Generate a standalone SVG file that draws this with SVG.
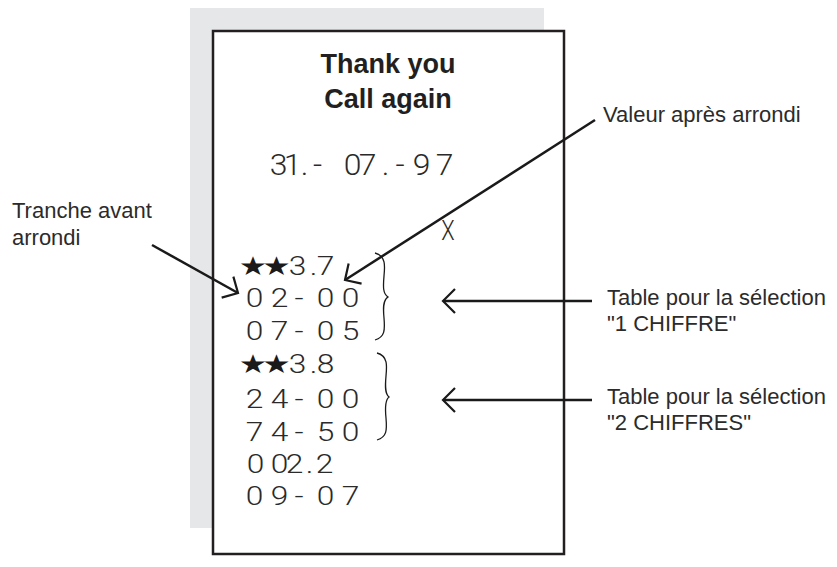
<svg xmlns="http://www.w3.org/2000/svg" width="837" height="567" viewBox="0 0 837 567">
<defs>
<style>
.lbl{font-family:"Liberation Sans",Arial,sans-serif;font-size:22px;fill:#2b2b2b}
.ttl{font-family:"Liberation Sans",Arial,sans-serif;font-size:27px;font-weight:bold;fill:#231f20;text-anchor:middle}
.rc{font-family:Roboto,"DejaVu Sans",sans-serif;font-weight:300;font-size:26px;fill:#2a2a2a;text-anchor:middle}
.st{font-family:"DejaVu Sans",sans-serif;font-size:26px;fill:#1a1a1a;text-anchor:middle}
.ln{stroke:#1a1a1a;stroke-width:2.5;fill:none}
.br{stroke:#1a1a1a;stroke-width:1.3;fill:none}
</style>
<marker id="ah" markerUnits="userSpaceOnUse" markerWidth="30" markerHeight="30" refX="0" refY="0" viewBox="-15 -15 30 30" orient="auto" overflow="visible">
<path d="M -12 -12 L 0 0 L -12 12" fill="none" stroke="#1a1a1a" stroke-width="2.2"/>
</marker>
</defs>
<rect x="0" y="0" width="837" height="567" fill="#ffffff"/>
<g id="receipt">
<rect x="190" y="8" width="354" height="520" fill="#e6e7e9"/>
<rect x="213" y="31" width="351" height="523" fill="#ffffff" stroke="#231f20" stroke-width="2.5"/>
<text class="ttl" x="388" y="73">Thank you</text>
<text class="ttl" x="388" y="108">Call again</text>
<g transform="scale(1.1,1)">
<text class="rc" style="font-size:29px" x="253.2 265.9 276.8 288.6 320.5 334.1 350.5 363.6 383.2 404.1" y="175">31.-07.-97</text>
</g>
<g transform="translate(448,240) scale(0.78,1)">
<text class="rc" style="font-size:28px" x="0" y="0">X</text>
</g>
<g transform="scale(1.22,1)">
<text y="275"><tspan class="st" x="207.4 226.6">★★</tspan><tspan class="rc" x="243.9 257 266.8">3.7</tspan></text>
<text class="rc" x="208.6 229.1 245.1 266.8 287.3" y="307">02-00</text>
<text class="rc" x="208.6 229.1 245.1 266.8 287.3" y="340">07-05</text>
<text y="373"><tspan class="st" x="207.4 226.6">★★</tspan><tspan class="rc" x="243.9 257 266.8">3.8</tspan></text>
<text class="rc" x="208.6 229.1 245.1 266.8 287.3" y="408">24-00</text>
<text class="rc" x="208.6 229.1 245.1 266.8 287.3" y="441">74-50</text>
<text class="rc" x="209.4 229.1 241.4 253.7 266" y="473">002.2</text>
<text class="rc" x="208.6 229.1 245.1 266.8 287.3" y="505">09-07</text>
</g>
<path class="br" d="M375 253 C386 256 385 266 384 276 C383 287 383 294 388 297 C383 300 383 308 384 318 C385 330 385 337 375 340"/>
<path class="br" d="M377 353 C388 356 387 366 386 376 C385 387 385 394 389 397 C385 400 385 408 386 418 C387 430 387 437 377 440"/>
</g>
<g id="label-tranche">
<text class="lbl" x="12" y="218">Tranche avant</text>
<text class="lbl" x="12" y="245">arrondi</text>
</g>
<g id="label-valeur">
<text class="lbl" x="603" y="122">Valeur après arrondi</text>
</g>
<g id="label-table1">
<text class="lbl" x="607" y="305">Table pour la sélection</text>
<text class="lbl" x="607" y="331">"1 CHIFFRE"</text>
</g>
<g id="label-table2">
<text class="lbl" x="607" y="404">Table pour la sélection</text>
<text class="lbl" x="607" y="430">"2 CHIFFRES"</text>
</g>
<g id="connectors">
<line class="ln" x1="152" y1="245" x2="238" y2="293" marker-end="url(#ah)"/>
<line class="ln" x1="595" y1="120" x2="345" y2="280" marker-end="url(#ah)"/>
<line class="ln" x1="592" y1="301" x2="443" y2="301" marker-end="url(#ah)"/>
<line class="ln" x1="592" y1="400" x2="443" y2="400" marker-end="url(#ah)"/>
</g>
</svg>
